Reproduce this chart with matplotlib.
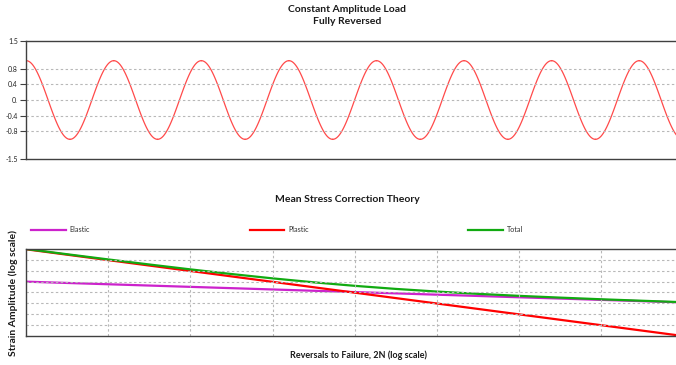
import numpy as np
import matplotlib
matplotlib.use("Agg")
import matplotlib.pyplot as plt

plt.rcParams['font.family'] = ['Lato', 'DejaVu Sans']

# Load history: peak / valley values of the constant amplitude, fully reversed load
load_history = [1.0, -1.0, 1.0, -1.0, 1.0, -1.0, 1.0, -1.0,
                1.0, -1.0, 1.0, -1.0, 1.0, -1.0, 1.0, -1.0]
load_ticks = [1.5, 0.8, 0.4, 0.0, -0.4, -0.8, -1.5]
load_tick_labels = ['1.5', '0.8', '0.4', '0.', '-0.4', '-0.8', '-1.5']

# Strain-life curve, read at half decades of reversals (2N)
reversals = [1e0, 10**0.5, 1e1, 10**1.5, 1e2, 10**2.5, 1e3, 10**3.5, 1e4,
             10**4.5, 1e5, 10**5.5, 1e6, 10**6.5, 1e7, 10**7.5, 1e8]
elastic = [0.0045, 0.003919, 0.003414, 0.002974, 0.002589, 0.002255, 0.001964,
           0.001711, 0.00149, 0.001298, 0.00113, 0.000985, 0.000857, 0.000747,
           0.00065, 0.000567, 0.000493]
plastic = [0.14, 0.07872, 0.04427, 0.0249, 0.014, 0.00787, 0.004427, 0.00249,
           0.0014, 0.000787, 0.000443, 0.000249, 0.00014, 0.0000787,
           0.0000443, 0.0000249, 0.000014]
total = [0.1445, 0.08264, 0.04768, 0.02787, 0.01659, 0.01013, 0.006391,
         0.004201, 0.00289, 0.002085, 0.001573, 0.001234, 0.000997, 0.000826,
         0.000694, 0.000592, 0.000507]

W, H = 676, 365
fig = plt.figure(figsize=(W / 100, H / 100), dpi=100)

spine_col = '#404040'
grid_kw = dict(color='#b8b8b8', linestyle=(0, (2.2, 2.2)), linewidth=0.8)

# ---- top chart: load history ----
ax1 = fig.add_axes([26.2 / W, 1 - 159 / H, (683 - 26.2) / W, 118 / H])
# each reversal drawn as a half cosine between successive peak and valley
for i in range(len(load_history) - 1):
    s = np.linspace(0, 1, 40)
    a, b = load_history[i], load_history[i + 1]
    y = (a + b) / 2 + (a - b) / 2 * np.cos(np.pi * s)
    ax1.plot(i + s, y, color='#ff4a4a', linewidth=0.9)
ax1.set_xlim(0, len(load_history) - 1)
ax1.set_ylim(-1.5, 1.5)
ax1.set_xticks([])
ax1.set_yticks(load_ticks)
ax1.set_yticklabels(load_tick_labels, fontsize=5, color='#202020')
ax1.tick_params(axis='y', length=4, width=0.8, color=spine_col, pad=2)
for v in load_ticks[1:-1]:
    ax1.axhline(v, **grid_kw)
for sp in ['top', 'bottom', 'left']:
    ax1.spines[sp].set_color(spine_col)
    ax1.spines[sp].set_linewidth(1.0)
ax1.spines['right'].set_visible(False)

title_kw = dict(ha='center', va='center', fontsize=7.5, fontweight='bold',
                color='#1a1a1a')
fig.text(347 / W, 1 - 10 / H, 'Constant Amplitude Load', **title_kw)
fig.text(347 / W, 1 - 22 / H, 'Fully Reversed', **title_kw)

# ---- bottom chart: strain-life ----
ax2 = fig.add_axes([26.2 / W, 1 - 336 / H, (683 - 26.2) / W, 87 / H])
l_el, = ax2.plot(reversals, elastic, color='#cc22cc', linewidth=1.6, label='Elastic')
l_pl, = ax2.plot(reversals, plastic, color='#ff0000', linewidth=1.6, label='Plastic')
l_to, = ax2.plot(reversals, total, color='#11aa11', linewidth=1.6, label='Total')
ax2.set_xscale('log')
ax2.set_yscale('log')
ax2.set_xlim(reversals[0], reversals[-1])
ax2.set_ylim(plastic[-1], total[0])
ax2.minorticks_off()
ax2.set_xticks([])
ax2.set_yticks([])
for d in range(1, 8):
    ax2.axvline(10.0 ** d, **grid_kw)
for k in range(1, 8):
    ax2.axhline(total[0] * 10 ** (-0.5 * k), **grid_kw)
for sp in ['top', 'bottom', 'left']:
    ax2.spines[sp].set_color(spine_col)
    ax2.spines[sp].set_linewidth(1.0)
ax2.spines['right'].set_visible(False)

fig.text(347 / W, 1 - 199 / H, 'Mean Stress Correction Theory', **title_kw)
fig.text(13 / W, 1 - 293 / H, 'Strain Amplitude (log scale)', ha='center',
         va='center', rotation=90, fontsize=7.5, fontweight='bold', color='#1a1a1a')
fig.text(358 / W, 1 - 355 / H, 'Reversals to Failure, 2N (log scale)', ha='center',
         va='center', fontsize=6.5, fontweight='bold', color='#1a1a1a')

fig.legend(handles=[l_el, l_pl, l_to], loc='center left',
           bbox_to_anchor=(31 / W, 1 - 230 / H), ncol=3, frameon=False,
           fontsize=5.2, handlelength=4.8, handletextpad=0.55,
           columnspacing=22.1, borderpad=0, borderaxespad=0,
           labelcolor='#303030')

fig.savefig('out.png', dpi=100)
